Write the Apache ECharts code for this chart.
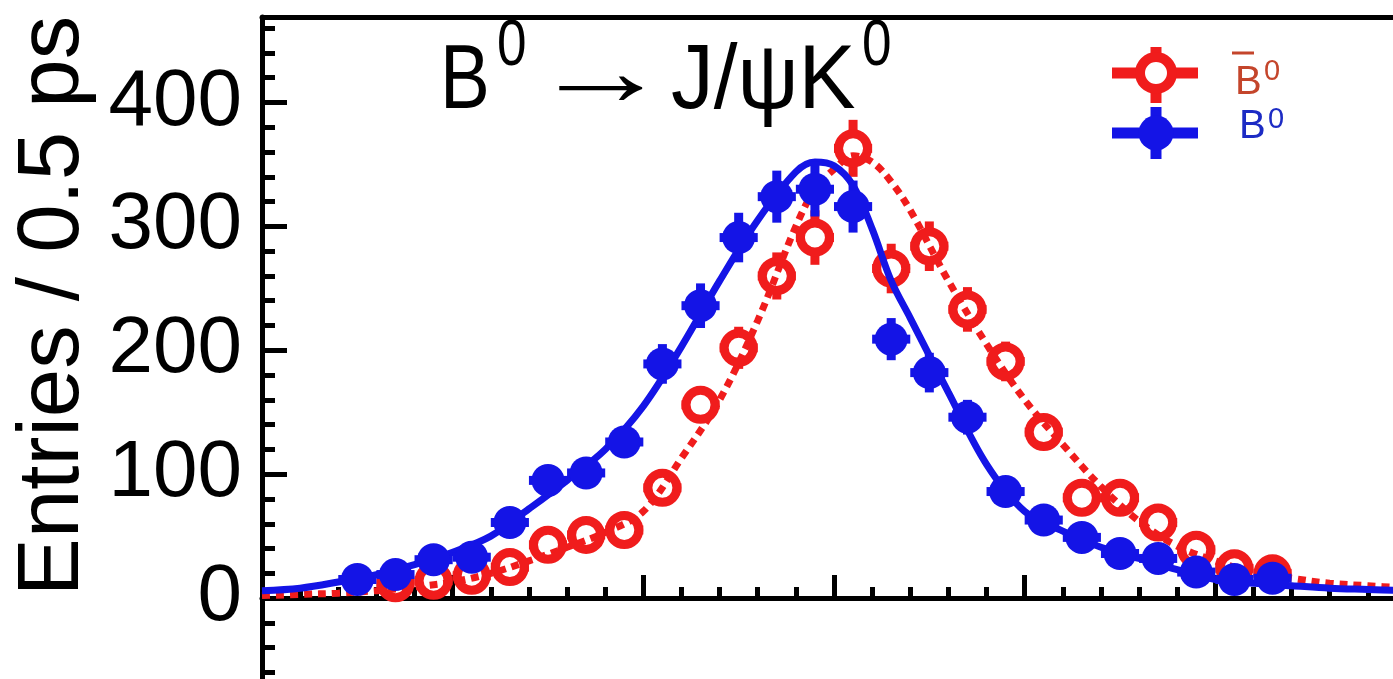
<!DOCTYPE html>
<html>
<head>
<meta charset="utf-8">
<script src="https://cdn.jsdelivr.net/npm/echarts@6/dist/echarts.min.js"></script>
<style>
html,body{margin:0;padding:0;background:#ffffff;}
#chart{width:1393px;height:679px;}
</style>
</head>
<body>
<div id="chart"></div>
<script>
// ---------- data ----------
// Δt bin centres (ps) of the B0-tagged (blue, filled) points
const b0Time   = [-6.25,-5.75,-5.25,-4.75,-4.25,-3.75,-3.25,-2.75,-2.25,-1.75,-1.25,-0.75,-0.25,0.25,0.75,1.25,1.75,2.25,2.75,3.25,3.75,4.25,4.75,5.25,5.75];
const b0Counts = [15,19,31,33,61,95,101,126,189,236,291,324,330,316,209,182,146,86,63,49,36,32,21,15,16];
const b0Errors = [5,5,7,7,9,11,12,13,16,18,20,21,22,21,17,16,14,11,9,8,7,7,6,5,5];

// Δt bin centres (ps) of the anti-B0-tagged (red, open) points
const b0barTime   = [-5.75,-5.25,-4.75,-4.25,-3.75,-3.25,-2.75,-2.25,-1.75,-1.25,-0.75,-0.25,0.25,0.75,1.25,1.75,2.25,2.75,3.25,3.75,4.25,4.75,5.25,5.75];
const b0barCounts = [12,14,18,25,43,51,55,89,156,202,260,291,363,266,284,233,191,134,81,81,61,39,24,20];
const b0barErrors = [4,4,5,6,8,9,9,11,15,17,19,22,23,20,20,18,16,14,11,11,9,7,6,5];

// fit curves, read at these Δt values
const fitTime   = [-7.5,-7,-6.5,-6,-5.5,-5,-4.5,-4,-3.5,-3,-2.5,-2,-1.5,-1,-0.5,-0.25,0,0.25,0.5,0.75,1,1.5,2,2.5,3,3.5,4,4.5,5,5.5,6,6.5,7,7.5];
const b0Fit     = [6,8,13,19,27,37,50,72,95,120,155,203,256,305,344,352,349,333,298,256,226,166,108,70,54,41,32,23,15,12,10,8,7,6];
const b0barFit  = [2,3,4,6,9,13,20,30,41,53,70,113,160,224,300,330,346,357,352,336,313,256,205,160,124,90,62,42,30,21,16,12,10,8];

// axis settings
const xRange = [-7.5, 7.5];
const yRange = [-100, 469];
const yTickLabels = [0, 100, 200, 300, 400];

// ---------- build ----------
const RED = '#f01c1c';
const BLUE = '#1414e6';

function zip3(a,b,c){ return a.map((v,i)=>[v,b[i],c[i]]); }
function zip2(a,b){ return a.map((v,i)=>[v,b[i]]); }

function errRender(kind){
  return function(params, api){
    const t = api.value(0), v = api.value(1), e = api.value(2);
    const c = api.coord([t, v]);
    const top = api.coord([t, v + e]);
    const bot = api.coord([t, v - e]);
    const lft = api.coord([t - 0.25, v]);
    const rgt = api.coord([t + 0.25, v]);
    const color = kind === 'open' ? RED : BLUE;
    const R = kind === 'open' ? 19 : 16.5;
    const lw = 9;
    const children = [];
    function seg(x1,y1,x2,y2){
      children.push({type:'line', shape:{x1,y1,x2,y2}, style:{stroke:color, lineWidth:lw, lineCap:'butt'}});
    }
    if (top[1] < c[1] - R) seg(c[0], top[1], c[0], c[1] - R + 2);
    if (bot[1] > c[1] + R) seg(c[0], c[1] + R - 2, c[0], bot[1]);
    if (lft[0] < c[0] - R) seg(lft[0], c[1], c[0] - R + 2, c[1]);
    if (rgt[0] > c[0] + R) seg(c[0] + R - 2, c[1], rgt[0], c[1]);
    if (kind === 'open') {
      children.push({type:'circle', shape:{cx:c[0], cy:c[1], r:14.5}, style:{fill:'none', stroke:color, lineWidth:9}});
    } else {
      children.push({type:'circle', shape:{cx:c[0], cy:c[1], r:R}, style:{fill:color}});
    }
    return {type:'group', children};
  };
}

const FONT = 'Liberation Sans, Arial, Helvetica, sans-serif';

function titleText(str, x, y, size, sx){
  return {type: 'text', x: x, y: y, scaleX: sx, z: 10,
    style: {text: str, fontSize: size, fontFamily: FONT, fill: '#000', verticalAlign: 'middle', align: 'left'}};
}

const chart = echarts.init(document.getElementById('chart'), null, {renderer:'canvas'});
chart.setOption({
  backgroundColor: '#ffffff',
  animation: false,
  grid: {left: 262, right: -13, top: 17, bottom: -43, containLabel: false, outerBoundsMode: 'none'},
  xAxis: [
    {
      type: 'value', min: xRange[0], max: xRange[1], interval: 2.5,
      axisLine: {show: true, onZero: true, onZeroAxisIndex: 0, lineStyle: {color: '#000', width: 5}},
      axisTick: {show: true, inside: true, length: 23, lineStyle: {color: '#000', width: 5}},
      minorTick: {show: true, splitNumber: 5, length: 11, lineStyle: {color: '#000', width: 5}},
      axisLabel: {show: false},
      splitLine: {show: false}, minorSplitLine: {show: false}
    },
    {
      type: 'value', position: 'top', min: xRange[0], max: xRange[1],
      axisLine: {show: true, onZero: false, lineStyle: {color: '#000', width: 5}},
      axisTick: {show: false}, axisLabel: {show: false}, splitLine: {show: false}
    }
  ],
  yAxis: [
    {
      type: 'value', min: yRange[0], max: yRange[1], interval: 100, position: 'left',
      name: 'Entries / 0.5 ps', nameLocation: 'middle', nameRotate: 90, nameGap: 160,
      nameTextStyle: {fontSize: 87, fontFamily: FONT, color: '#000', padding: [0, 0, 0, 127]},
      axisLine: {show: true, onZero: false, lineStyle: {color: '#000', width: 5}},
      axisTick: {show: true, inside: true, length: 25, lineStyle: {color: '#000', width: 5}},
      axisLabel: {
        show: true, margin: 20, fontSize: 80, fontFamily: FONT, color: '#000',
        formatter: function(v){ return yTickLabels.indexOf(Math.round(v)) >= 0 && Math.abs(v - Math.round(v)) < 1e-6 ? String(Math.round(v)) : ''; }
      },
      splitLine: {show: false}
    },
    {
      type: 'value', min: yRange[0], max: yRange[1], interval: 20, position: 'left',
      axisLine: {show: false, onZero: false},
      axisTick: {show: true, inside: true, length: 13, lineStyle: {color: '#000', width: 5}},
      axisLabel: {show: false}, splitLine: {show: false}
    }
  ],
  series: [
    {
      name: 'B0bar fit', type: 'line', xAxisIndex: 0, yAxisIndex: 0, z: 2,
      data: zip2(fitTime, b0barFit), smooth: 0.35, showSymbol: false, symbol: 'none',
      lineStyle: {color: RED, width: 7, type: [8, 6]}, silent: true
    },
    {
      name: 'B0bar', type: 'custom', xAxisIndex: 0, yAxisIndex: 0, z: 3,
      data: zip3(b0barTime, b0barCounts, b0barErrors), encode: {x: 0, y: 1},
      renderItem: errRender('open'), silent: true
    },
    {
      name: 'B0 fit', type: 'line', xAxisIndex: 0, yAxisIndex: 0, z: 4,
      data: zip2(fitTime, b0Fit), smooth: 0.35, showSymbol: false, symbol: 'none',
      lineStyle: {color: BLUE, width: 7}, silent: true
    },
    {
      name: 'B0', type: 'custom', xAxisIndex: 0, yAxisIndex: 0, z: 5,
      data: zip3(b0Time, b0Counts, b0Errors), encode: {x: 0, y: 1},
      renderItem: errRender('filled'), silent: true
    }
  ],
  graphic: [
    // title  B0 → J/ψK0
    titleText('B', 440, 83, 90, 0.83),
    titleText('0', 497, 47, 64, 0.83),
    titleText('→', 531, 77, 100, 1.4),
    titleText('J/ψK', 671, 83, 90, 0.95),
    titleText('0', 862, 47, 64, 0.83),
    // legend: anti-B0 (red open)
    {type: 'line', shape: {x1: 1112, y1: 73, x2: 1198, y2: 73}, style: {stroke: RED, lineWidth: 11}, z: 10},
    {type: 'line', shape: {x1: 1156, y1: 47, x2: 1156, y2: 103}, style: {stroke: RED, lineWidth: 11}, z: 10},
    {type: 'circle', shape: {cx: 1156, cy: 73, r: 16}, style: {fill: '#fff', stroke: RED, lineWidth: 10}, z: 11},
    // legend: B0 (blue filled)
    {type: 'line', shape: {x1: 1112, y1: 133, x2: 1198, y2: 133}, style: {stroke: BLUE, lineWidth: 11}, z: 10},
    {type: 'line', shape: {x1: 1156, y1: 107, x2: 1156, y2: 159}, style: {stroke: BLUE, lineWidth: 11}, z: 10},
    {type: 'circle', shape: {cx: 1156, cy: 133, r: 17.5}, style: {fill: BLUE}, z: 11},
    // legend labels
    {type: 'text', x: 1235, y: 83, z: 12, style: {text: 'B', fontSize: 40, fontFamily: FONT, fill: '#c4452b', verticalAlign: 'middle'}},
    {type: 'line', shape: {x1: 1232, y1: 53, x2: 1254, y2: 53}, style: {stroke: '#c4452b', lineWidth: 3}, z: 12},
    {type: 'text', x: 1264, y: 72, z: 12, style: {text: '0', fontSize: 29, fontFamily: FONT, fill: '#c4452b', verticalAlign: 'middle'}},
    {type: 'text', x: 1239, y: 127, z: 12, style: {text: 'B', fontSize: 40, fontFamily: FONT, fill: '#1c2bc4', verticalAlign: 'middle'}},
    {type: 'text', x: 1268, y: 120, z: 12, style: {text: '0', fontSize: 29, fontFamily: FONT, fill: '#1c2bc4', verticalAlign: 'middle'}}
  ]
});
</script>
</body>
</html>
